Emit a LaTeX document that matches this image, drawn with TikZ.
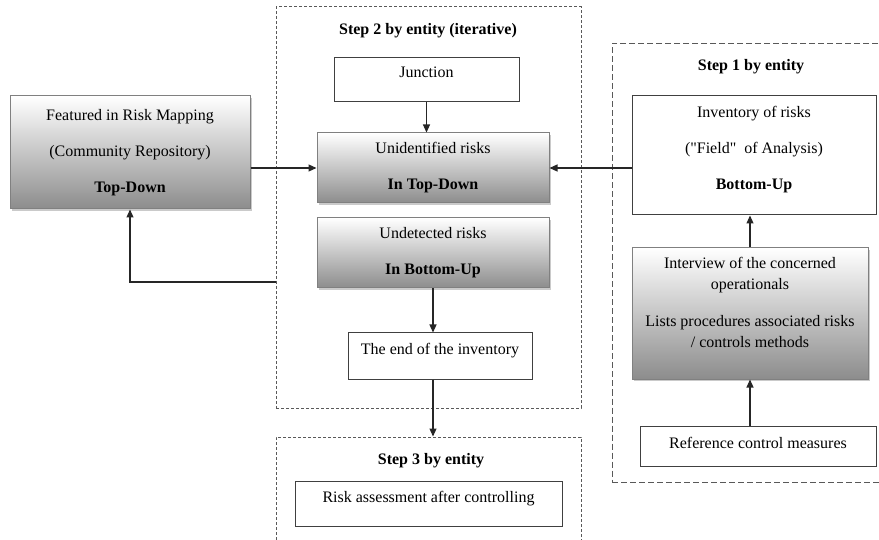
\documentclass[tikz,border=0pt]{standalone}
\usepackage{fontspec}
\setmainfont{Liberation Serif}[Ligatures=TeXOff]
\usetikzlibrary{arrows.meta,shadows}
\tikzset{plain box/.style={draw=black!75,line width=1pt,fill=white,align=center,inner sep=0pt,text height=11pt},
shade box/.style={draw=black!50,line width=1pt,top color=white,bottom color=black!45,align=center,inner sep=0pt,
  drop shadow={shadow xshift=2pt,shadow yshift=-2pt,fill=black!35,opacity=.6}},
step frame/.style={draw=black!65,line width=1pt,dash pattern=#1,inner sep=0pt},
link/.style={draw=black!85,line width=1.1pt,-{Triangle[length=8pt,width=7pt]}}}

\begin{document}
\begin{tikzpicture}[x=1pt,y=-1pt,font=\fontsize{16}{21}\selectfont]
\clip (0,0) rectangle (879,540);
% dashed frames of the three steps
\node[step frame={on 3pt off 2pt},minimum width=305pt,minimum height=401pt] (step2) at (428.5,207.5) {};
\node[step frame={on 3pt off 2pt},minimum width=305pt,minimum height=120pt] (step3) at (428.5,497) {};
\node[step frame={on 6pt off 3pt},minimum width=278pt,minimum height=439pt] (step1) at (751,263) {};
\node[font=\fontsize{16}{21}\selectfont\bfseries] (title2) at (428,31) {Step 2 by entity (iterative)};
\node[font=\fontsize{16}{21}\selectfont\bfseries] (title1) at (751,67) {Step 1 by entity};
\node[font=\fontsize{16}{21}\selectfont\bfseries] (title3) at (431,461) {Step 3 by entity};
% boxes
\node[shade box,minimum width=240pt,minimum height=113pt] (feat) at (130,152.5) {Featured in Risk Mapping\\[15pt](Community Repository)\\[15pt]\textbf{Top-Down}};
\node[plain box,minimum width=185pt,minimum height=44pt,text depth=15pt] (junc) at (426.5,80) {Junction};
\node[shade box,minimum width=232pt,minimum height=70pt] (unid) at (433,168) {Unidentified risks\\[15pt]\textbf{In Top-Down}};
\node[shade box,minimum width=232pt,minimum height=70pt] (undet) at (433,253) {Undetected risks\\[15pt]\textbf{In Bottom-Up}};
\node[plain box,minimum width=184pt,minimum height=46pt,text depth=13pt] (end) at (440,356) {The end of the inventory};
\node[plain box,minimum width=267pt,minimum height=45pt,text depth=14pt] (risk) at (428.5,503.5) {Risk assessment after controlling};
\node[plain box,text height=,minimum width=244pt,minimum height=119pt,text depth=15pt] (inv) at (754,155.5) {Inventory of risks\\[15pt]("Field"~ of Analysis)\\[15pt]\textbf{Bottom-Up}};
\node[shade box,minimum width=236pt,minimum height=131pt,text depth=23pt] (intv) at (750,313.5) {Interview of the concerned\\operationals\\[16pt]Lists procedures associated risks\\/ controls methods};
\node[plain box,minimum width=236pt,minimum height=40pt,text depth=7pt] (ref) at (758,446) {Reference control measures};
% connectors
\draw[link] (feat.east |- unid.west) -- (unid.west);
\draw[link] (inv.west |- unid.east) -- (unid.east);
\draw[link] (junc.south) -- (junc.south |- unid.north);
\draw[link] (undet.south) -- (undet.south |- end.north);
\draw[link] (end.south -| undet.south) -- (undet.south |- step3.north);
\draw[link] ([yshift=-74.5pt]step2.west) -| (feat.south);
\draw[link] (intv.north) -- (intv.north |- inv.south);
\draw[link] (intv.south |- ref.north) -- (intv.south);
\end{tikzpicture}
\end{document}
